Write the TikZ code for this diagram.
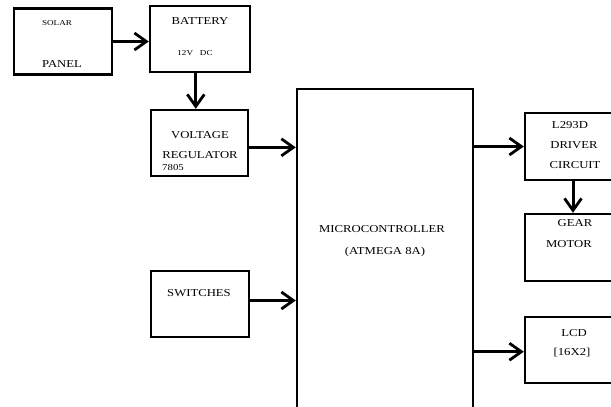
\documentclass[tikz,border=0pt]{standalone}
\usepackage{fontspec}
\setmainfont{Liberation Serif}[FakeStretch=1.2]
\usepackage{tikz}
\usetikzlibrary{positioning,arrows.meta,calc}

\begin{document}
\begin{tikzpicture}[x=1pt, y=-1pt,
  blk/.style={draw, line width=2.4pt, minimum width=98pt, minimum height=66pt, inner sep=0pt},
  lbl/.style={font=\fontsize{10.6}{12}\selectfont, inner sep=0pt},
  sml/.style={font=\fontsize{7.6}{9}\selectfont, inner sep=0pt},
  arr/.style={line width=3pt, -{Straight Barb[length=12pt, width=17pt, line width=2.8pt]}}]
  % page 611 x 407, right column and controller run off the edge
  \useasboundingbox (0,0) rectangle (611,407);
  \clip (0,0) rectangle (611,407);
  % blocks
  \node[blk] (solar) at (63,41.5) {};
  \node[blk, minimum width=100pt] (battery) at (200,39) {};
  \node[blk, minimum width=97pt] (reg) at (199.5,143) {};
  \node[blk] (switch) at (200,304) {};
  \node[blk, minimum width=176pt, minimum height=331pt] (mcu) at (385,254.5) {};
  \node[blk, minimum width=96pt, minimum height=67pt] (driver) at (573,146.5) {};
  \node[blk, minimum width=96pt, minimum height=67pt] (motor) at (573,247.5) {};
  \node[blk, minimum width=96pt] (lcd) at (573,350) {};
  % texts
  \node[sml] (solarA) at (57,23) {SOLAR};
  \node[lbl] (solarB) at (62,64) {PANEL};
  \node[lbl] (battA) at (200,21) {BATTERY};
  \node[sml] (battB) at (195,53) {12V\ \ \ DC};
  \node[lbl] (regA) at (200,135) {VOLTAGE};
  \node[lbl] (regB) at (200,155) {REGULATOR};
  \node[font=\fontsize{9}{10}\selectfont, inner sep=0pt] (regC) at (173,168) {7805};
  \node[lbl] (mcuA) at (382,229) {MICROCONTROLLER};
  \node[lbl] (mcuB) at (385,252) {(ATMEGA 8A)};
  \node[lbl] (drvA) at (570,125) {L293D};
  \node[lbl] (drvB) at (574,145) {DRIVER};
  \node[lbl] (drvC) at (575,165) {CIRCUIT};
  \node[lbl] (motA) at (575,223) {GEAR};
  \node[lbl] (motB) at (569,244) {MOTOR};
  \node[lbl] (swA) at (199,293) {SWITCHES};
  \node[lbl] (lcdA) at (574,333) {LCD};
  \node[lbl] (lcdB) at (572,353) {[16X2]};
  % connectors
  \draw[arr] (solar.east) -- (solar.east -| battery.west);
  \draw[arr] (battery.-97) -- (battery.-97 |- reg.north);
  \draw[arr] (reg.-5) -- (reg.-5 -| mcu.west);
  \draw[arr] (switch.4) -- (switch.4 -| mcu.west);
  \draw[arr] (driver.west -| mcu.east) -- (driver.west);
  \draw[arr] (driver.south) -- (motor.north);
  \draw[arr] (lcd.182 -| mcu.east) -- (lcd.182);
\end{tikzpicture}
\end{document}
